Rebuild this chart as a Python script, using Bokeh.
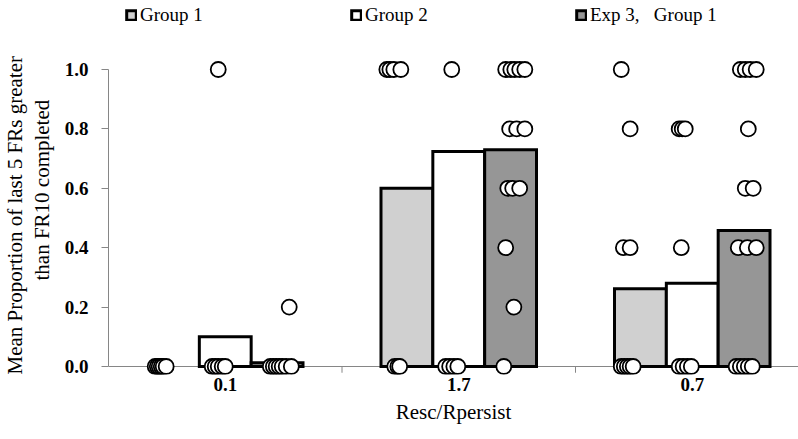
from bokeh.plotting import figure
from bokeh.models import (ColumnDataSource, Range1d, FixedTicker, PrintfTickFormatter,
                          Span, Legend, LegendItem, Title)
from bokeh.embed import file_html
from bokeh.resources import INLINE

# ---------------- data ----------------
categories = ["0.1", "1.7", "0.7"]
series_names = ["Group 1", "Group 2", "Exp 3,   Group 1"]
series_colors = ["#d0d0d0", "#ffffff", "#969696"]

bar_group1 = [0.0, 0.60, 0.262]
bar_group2 = [0.10, 0.724, 0.28]
bar_exp3 = [0.013, 0.73, 0.458]

y_ticks = [0.0, 0.2, 0.4, 0.6, 0.8, 1.0]

# individual subjects: category index, value, horizontal jitter (fraction of category width)
g1_cat = [0, 0, 0, 0, 0, 0,
          1, 1, 1, 1, 1, 1, 1,
          2, 2, 2, 2, 2, 2, 2, 2, 2]
g1_val = [0, 0, 0, 0, 0, 0,
          1.0, 1.0, 1.0, 1.0, 0, 0, 0,
          1.0, 0.8, 0.4, 0.4, 0, 0, 0, 0, 0]
g1_jit = [-0.300, -0.291, -0.283, -0.274, -0.266, -0.253,
          -0.308, -0.295, -0.278, -0.248, -0.274, -0.261, -0.253,
          -0.304, -0.266, -0.295, -0.266, -0.304, -0.291, -0.278, -0.266, -0.253]

g2_cat = [0, 0, 0, 0, 0, 0,
          1, 1, 1, 1, 1,
          2, 2, 2, 2, 2, 2, 2, 2]
g2_val = [1.0, 0, 0, 0, 0, 0,
          1.0, 0, 0, 0, 0,
          0.8, 0.8, 0.8, 0.4, 0, 0, 0, 0]
g2_jit = [-0.030, -0.056, -0.043, -0.030, -0.013, 0.0,
          -0.030, -0.056, -0.039, -0.021, -0.004,
          -0.056, -0.043, -0.030, -0.047, -0.056, -0.039, -0.021, -0.004]

e3_cat = [0, 0, 0, 0, 0, 0, 0, 0,
          1, 1, 1, 1, 1, 1, 1, 1, 1, 1, 1, 1, 1, 1,
          2, 2, 2, 2, 2, 2, 2, 2, 2, 2, 2, 2, 2, 2, 2]
e3_val = [0.2, 0, 0, 0, 0, 0, 0, 0,
          1.0, 1.0, 1.0, 1.0, 1.0, 0.8, 0.8, 0.8, 0.6, 0.6, 0.6, 0.4, 0.2, 0,
          1.0, 1.0, 1.0, 1.0, 0.8, 0.6, 0.6, 0.4, 0.4, 0.4, 0, 0, 0, 0, 0]
e3_jit = [0.274, 0.193, 0.206, 0.218, 0.231, 0.244, 0.261, 0.283,
          0.201, 0.223, 0.240, 0.261, 0.283, 0.218, 0.248, 0.283, 0.210, 0.231, 0.261, 0.201, 0.236, 0.193,
          0.206, 0.227, 0.248, 0.274, 0.240, 0.227, 0.261, 0.197, 0.236, 0.274, 0.188, 0.206, 0.223, 0.240, 0.257]

# ---------------- figure ----------------
FONT = "Liberation Serif"
GRAY = "#868686"
BAR_W = 0.222

p = figure(width=798, height=439, output_backend="svg", toolbar_location=None,
           x_range=Range1d(-0.5, 2.455), y_range=Range1d(-0.0269, 1.2323),
           min_border_left=108, min_border_right=0, min_border_top=0, min_border_bottom=65,
           background_fill_color="white", border_fill_color="white")
p.outline_line_color = None
p.xgrid.visible = False
p.ygrid.visible = False

# x axis baseline and category boundary ticks
p.add_layout(Span(location=0, dimension="width", line_color=GRAY, line_width=1, level="underlay"))
bounds = [i + 0.5 for i in range(len(categories))]
p.segment(x0=bounds, y0=[0] * len(bounds), x1=bounds, y1=[-0.021] * len(bounds),
          line_color=GRAY, line_width=1)

# bars
bar_series = [bar_group1, bar_group2, bar_exp3]
bar_renderers = []
for s, vals in enumerate(bar_series):
    xs = [i + (s - 1) * BAR_W for i in range(len(categories))]
    src = ColumnDataSource(dict(x=xs, top=vals,
                                la=[0.0 if v == 0 else 1.0 for v in vals]))
    r = p.vbar(x="x", top="top", bottom=0, width=BAR_W, source=src,
               fill_color=series_colors[s], line_color="black", line_width=3,
               line_alpha="la", line_join="miter")
    bar_renderers.append(r)

# individual points, drawn left to right so stacks overlap like the original
pts = []
for cats, vals, jits in [(g1_cat, g1_val, g1_jit), (g2_cat, g2_val, g2_jit), (e3_cat, e3_val, e3_jit)]:
    for c, v, j in zip(cats, vals, jits):
        pts.append((c + j, v))
pts.sort(key=lambda t: t[0])
psrc = ColumnDataSource(dict(x=[t[0] for t in pts], y=[t[1] for t in pts]))
p.scatter(x="x", y="y", source=psrc, marker="circle", size=15,
          fill_color="white", line_color="black", line_width=1.8)

# y axis
p.yaxis.bounds = (0, 1)
p.yaxis.ticker = FixedTicker(ticks=y_ticks)
p.yaxis.formatter = PrintfTickFormatter(format="%.1f")
p.yaxis.axis_line_color = GRAY
p.yaxis.major_tick_line_color = GRAY
p.yaxis.major_tick_out = 7
p.yaxis.major_tick_in = 0
p.yaxis.minor_tick_line_color = None
p.yaxis.major_label_standoff = 13
p.yaxis.major_label_text_font = FONT
p.yaxis.major_label_text_font_size = "19px"
p.yaxis.major_label_text_font_style = "bold"
p.yaxis.major_label_text_color = "black"

# x axis (labels only)
p.xaxis.ticker = FixedTicker(ticks=list(range(len(categories))))
p.xaxis.major_label_overrides = {i: c for i, c in enumerate(categories)}
p.xaxis.axis_line_color = None
p.xaxis.major_tick_line_color = None
p.xaxis.minor_tick_line_color = None
p.xaxis.major_tick_out = 0
p.xaxis.major_tick_in = 0
p.xaxis.major_label_standoff = 3
p.xaxis.major_label_text_font = FONT
p.xaxis.major_label_text_font_size = "19px"
p.xaxis.major_label_text_font_style = "bold"
p.xaxis.major_label_text_color = "black"
p.xaxis.axis_label = "Resc/Rpersist"
p.xaxis.axis_label_standoff = 6
p.xaxis.axis_label_text_font = FONT
p.xaxis.axis_label_text_font_size = "21px"
p.xaxis.axis_label_text_font_style = "normal"
p.xaxis.axis_label_text_color = "black"

# y axis title on two lines
t2 = Title(text="than FR10  completed", align="center", offset=15, standoff=16,
           text_font=FONT, text_font_size="21px", text_font_style="normal", text_color="black")
t1 = Title(text="Mean Proportion of last 5  FRs greater", align="left", offset=0, standoff=-14,
           text_font=FONT, text_font_size="21px", text_font_style="normal", text_color="black")
p.add_layout(t2, "left")
p.add_layout(t1, "left")

# legend
legend = Legend(items=[LegendItem(label=series_names[s], renderers=[bar_renderers[s]], index=1)
                       for s in range(len(series_names))],
                orientation="horizontal", location=(17, 348),
                glyph_width=12, glyph_height=12, label_standoff=3, label_width=200, label_height=12,
                spacing=10, padding=0, margin=0,
                label_text_font=FONT, label_text_font_size="19px", label_text_color="black",
                background_fill_alpha=0, border_line_alpha=0)
p.add_layout(legend)

open("out.html", "w").write(file_html(p, INLINE))
